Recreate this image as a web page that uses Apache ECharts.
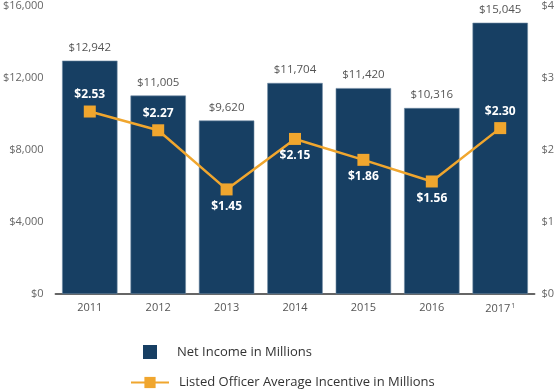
<!DOCTYPE html>
<html><head><meta charset="utf-8">
<script src="https://cdn.jsdelivr.net/npm/echarts@6/dist/echarts.min.js"></script>
<style>html,body{margin:0;padding:0;background:#fff}#c{width:557px;height:392px}</style>
</head><body><div id="c"></div>
<script>
const categories = ['2011','2012','2013','2014','2015','2016','2017'];
const netIncome = [12942, 11005, 9620, 11704, 11420, 10316, 15045];
const incentive = [2.53, 2.27, 1.45, 2.15, 1.86, 1.56, 2.30];
const labelPos = ['top','top','bottom','bottom','bottom','bottom','top'];
const barName = 'Net Income in Millions';
const lineName = 'Listed Officer Average Incentive in Millions';
const FONT = '"Open Sans", sans-serif';

const chart = echarts.init(document.getElementById('c'));
chart.setOption({
  animation: false,
  textStyle: {fontFamily: FONT},
  grid: {left: 53, right: 17, top: 5, bottom: 98},
  legend: [
    {data: [barName], orient: 'vertical', left: 138, top: 340, icon: 'rect', itemWidth: 14, itemHeight: 14,
     itemStyle: {borderWidth: 0},
     textStyle: {color: '#333', fontSize: 13, fontFamily: FONT, padding: [0,0,0,15]}},
    {data: [lineName], orient: 'vertical', left: 125, top: 371, itemWidth: 38, itemHeight: 14,
     textStyle: {color: '#333', fontSize: 13, fontFamily: FONT, padding: [0,0,0,5]}}
  ],
  xAxis: {
    type: 'category', data: categories,
    axisLine: {lineStyle: {color: '#666', width: 2}},
    axisTick: {show: false},
    axisLabel: {color: '#555', fontSize: 11, margin: 8, interval: 0,
      formatter: v => v === '2017' ? '2017{sup|1}' : v,
      rich: {sup: {fontSize: 7, verticalAlign: 'top', color: '#555', padding: [0,0,6,1]}}}
  },
  yAxis: [
    {type: 'value', min: 0, max: 16000, interval: 4000,
     splitLine: {show: false}, axisLine: {show: false}, axisTick: {show: false},
     axisLabel: {color: '#666', fontSize: 11, margin: 12,
       formatter: v => '$' + v.toLocaleString('en-US')}},
    {type: 'value', min: 0, max: 4, interval: 1,
     splitLine: {show: false}, axisLine: {show: false}, axisTick: {show: false},
     axisLabel: {color: '#666', fontSize: 11, margin: 7, formatter: v => '$' + v}}
  ],
  series: [
    {name: barName, type: 'bar', data: netIncome, barCategoryGap: '19%',
     itemStyle: {color: '#173f63', borderColor: '#6f8aa3', borderWidth: 0.6},
     label: {show: true, position: 'top', color: '#555', fontSize: 11.5, distance: 7,
       formatter: p => '$' + p.value.toLocaleString('en-US')}},
    {name: lineName, type: 'line', yAxisIndex: 1,
     data: incentive.map((v, i) => ({value: v, label: {position: labelPos[i]}})),
     symbol: 'rect', symbolSize: 12,
     lineStyle: {color: '#f0a62e', width: 2.5},
     itemStyle: {color: '#f0a62e'},
     label: {show: true, color: '#fff', fontWeight: 'bold', fontSize: 12, distance: 5,
       formatter: p => '$' + p.value.toFixed(2)}}
  ]
});
</script></body></html>
